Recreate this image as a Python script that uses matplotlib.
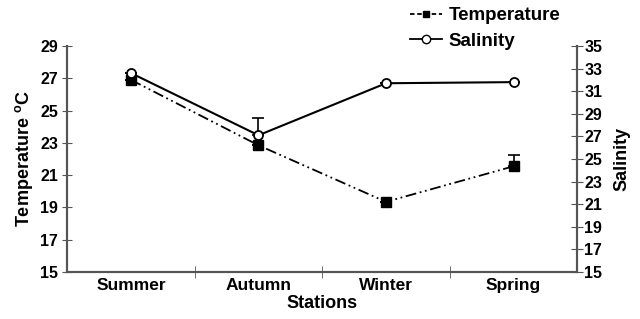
import numpy as np
import matplotlib.pyplot as plt
from matplotlib.lines import Line2D

# data
stations = ["Summer", "Autumn", "Winter", "Spring"]
temperature = [26.9, 22.85, 19.35, 21.55]
temp_err = [0.0, 0.0, 0.0, 0.7]
salinity = [32.6, 27.1, 31.7, 31.8]
sal_err = [0.0, 1.5, 0.0, 0.0]

temp_ticks = [15, 17, 19, 21, 23, 25, 27, 29]
sal_ticks = [15, 17, 19, 21, 23, 25, 27, 29, 31, 33, 35]

plt.rcParams["font.family"] = ["Liberation Sans", "DejaVu Sans"]
plt.rcParams["font.weight"] = "bold"

spine_col = "#555555"

fig = plt.figure(figsize=(6.4, 3.19), dpi=100)
ax = fig.add_axes([0.105, 0.147, 0.797, 0.709])
ax2 = ax.twinx()

x = np.arange(len(stations)) + 0.5

# temperature, left axis
ax.errorbar(x, temperature, yerr=[np.zeros(4), temp_err], fmt="none",
            ecolor="black", elinewidth=1.2, capsize=4, capthick=1.2)
ax.plot(x, temperature, color="black", lw=1.3, linestyle=(0, (6, 2, 1, 2, 1, 2)),
        marker="s", markersize=6.5, markerfacecolor="black", markeredgecolor="black")

# salinity, right axis
ax2.errorbar(x, salinity, yerr=[np.zeros(4), sal_err], fmt="none",
             ecolor="black", elinewidth=1.2, capsize=4, capthick=1.2)
ax2.plot(x, salinity, color="black", lw=1.5, marker="o", markersize=6.5,
         markerfacecolor="white", markeredgecolor="black", markeredgewidth=1.3)

ax.set_xlim(0, 4)
ax.set_ylim(15, 29)
ax2.set_ylim(15, 35)

ax.set_yticks(temp_ticks)
ax.set_yticklabels([str(t) for t in temp_ticks], fontsize=11.5, fontweight="bold")
ax2.set_yticks(sal_ticks)
ax2.set_yticklabels([str(t) for t in sal_ticks], fontsize=11.5, fontweight="bold")

ax.set_xticks(x)
ax.set_xticklabels(stations, fontsize=12.5, fontweight="bold")
ax.set_xticks([1, 2, 3], minor=True)
ax.tick_params(axis="x", which="major", length=0, pad=4)
ax.tick_params(axis="x", which="minor", length=8, direction="inout", color=spine_col)
ax.tick_params(axis="y", length=7, direction="inout", color=spine_col, pad=3)
ax2.tick_params(axis="y", length=8, direction="inout", color=spine_col, pad=1)

for a in (ax, ax2):
    a.spines["top"].set_visible(False)
    for side in ("left", "right", "bottom"):
        a.spines[side].set_color(spine_col)
        a.spines[side].set_linewidth(1.5)

ax.set_ylabel("Temperature $^{\\mathregular{o}}$C", fontsize=13, fontweight="bold", labelpad=4)
ax2.set_ylabel("Salinity", fontsize=13, fontweight="bold", labelpad=8)
ax.set_xlabel("Stations", fontsize=13, fontweight="bold", labelpad=2)

handles = [
    Line2D([], [], color="black", lw=1.3, linestyle=(0, (2.5, 1.5)), marker="s",
           markersize=5, markerfacecolor="black"),
    Line2D([], [], color="black", lw=1.3, marker="o", markersize=6,
           markerfacecolor="white"),
]
fig.legend(handles, ["Temperature", "Salinity"], loc="upper left",
           bbox_to_anchor=(0.615, 1.03), frameon=False, handlelength=1.7,
           handletextpad=0.35, labelspacing=0.45,
           prop={"size": 13.5, "weight": "bold"})

fig.savefig("out.png", dpi=100)
